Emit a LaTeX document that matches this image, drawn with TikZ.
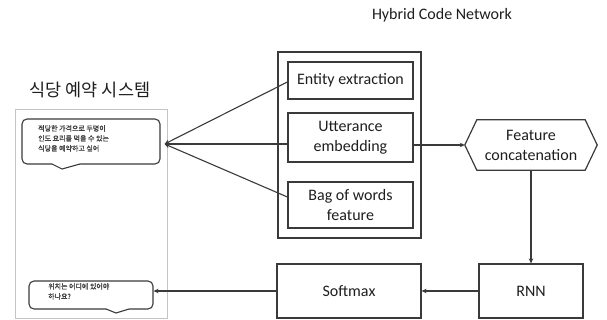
\documentclass[tikz,border=0pt]{standalone}
\usepackage{fontspec}
\setmainfont{Carlito}
\newfontfamily\kr{Noto Sans CJK KR}
\newfontfamily\krb[FakeBold=1.2]{Noto Sans CJK KR}
\usetikzlibrary{arrows.meta,calc}
\definecolor{boxc}{HTML}{3A3A3A}
\definecolor{txt}{HTML}{1E1E1E}
\definecolor{panelc}{HTML}{C4C4C4}
\tikzset{
  box/.style={draw=boxc, line width=1.2pt, inner sep=0pt, align=center,
    font=\fontsize{16}{20}\selectfont, text=txt},
  bubble/.style={draw=boxc, line width=1.1pt, rounded corners=5pt, fill=white, inner sep=0pt},
  msg/.style={inner sep=0pt, align=left, text=txt!85, font=\krb\fontsize{7}{10}\selectfont},
  link/.style={draw=boxc, line width=1.1pt},
  arr/.style={link, -{Stealth[length=5pt,width=4.5pt]}},
}
\begin{document}
\begin{tikzpicture}[x=1pt,y=-1pt]
\useasboundingbox (0,0) rectangle (607,320);

% titles
\node[text=txt, font=\kr\fontsize{17.5}{20}\selectfont] (systitle) at (90,90) {식당 예약 시스템};
\node[text=txt, font=\fontsize{16}{18}\selectfont] (hcntitle) at (442,15) {Hybrid Code Network};

% dialogue panel
\node[draw=panelc, line width=0.9pt, minimum width=152pt, minimum height=209pt] (panel) at (91,213.5) {};

% user utterance bubble
\node[bubble, minimum width=138pt, minimum height=45pt] (bub1) at (91,141.5) {};
\fill[white] (52.5,163) -- (80,163) -- (80,164.2) -- (62,169) -- (52,164.2) -- cycle;
\draw[link, line join=miter] (52,164) -- (62,169) -- (80,164);
\node[msg, anchor=north west] (msg1) at (38,125) {적당한 가격으로 두명이\\인도 요리를 먹을 수 있는\\식당을 예약하고 싶어};

% system response bubble
\node[bubble, minimum width=124pt, minimum height=28pt] (bub2) at (91,295) {};
\fill[white] (106.5,308) -- (129,308) -- (129,309.2) -- (116,313) -- (106,309.2) -- cycle;
\draw[link, line join=miter] (106,309) -- (116,313) -- (129,309);
\node[msg, anchor=north west] (msg2) at (48,283) {위치는 어디에 있어야\\하나요?};

% feature extraction blocks
\node[draw=boxc, line width=1.2pt, minimum width=143pt, minimum height=186pt] (hcn) at (349.5,145) {};
\node[box, minimum width=125pt, minimum height=37pt] (ent) at (350.5,80.5) {Entity extraction};
\node[box, minimum width=125pt, minimum height=49pt] (utt) at (350.5,137.5) {Utterance\\embedding};
\node[box, minimum width=125pt, minimum height=46pt] (bag) at (350.5,205) {Bag of words\\feature};

% feature concatenation (hexagon)
\node[inner sep=0pt, align=center, text=txt, font=\fontsize{16}{20}\selectfont,
      minimum width=132pt, minimum height=50pt] (feat) at (531,145) {Feature\\concatenation};
\draw[draw=boxc, line width=1.2pt, line join=miter]
  (feat.west) -- ($(feat.north west)+(12,0)$) -- ($(feat.north east)+(-12,0)$)
  -- (feat.east) -- ($(feat.south east)+(-12,0)$) -- ($(feat.south west)+(12,0)$) -- cycle;

% output blocks
\node[box, minimum width=144pt, minimum height=54pt] (soft) at (349,291) {Softmax};
\node[box, minimum width=104pt, minimum height=54pt] (rnn) at (531,291) {RNN};

% connectors
\coordinate (in1) at ($(bub1.east)+(4,2.5)$);
\draw[arr] ($(ent.west)+(0,1.5)$) -- (in1);
\draw[arr] (utt.west |- in1) -- (in1);
\draw[arr] ($(bag.west)+(0,-8)$) -- (in1);
\draw[arr] (utt.east |- feat.west) -- (feat.west);
\draw[arr] (feat.south) -- (rnn.north);
\draw[arr] (rnn.west) -- (soft.east);
\draw[arr] (soft.west) -- (soft.west -| bub2.east);
\end{tikzpicture}
\end{document}
